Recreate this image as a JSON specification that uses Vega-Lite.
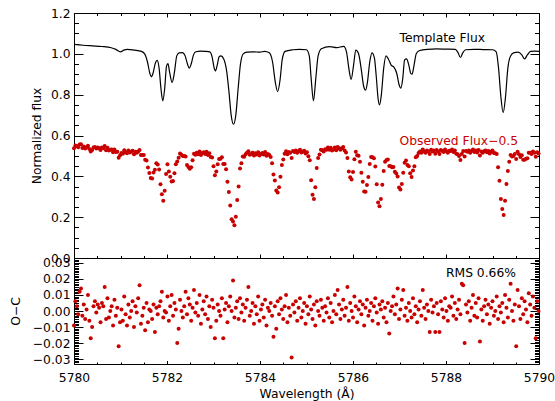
{
"$schema": "https://vega.github.io/schema/vega-lite/v6.json",
"background": "white",
"padding": {"left": 8, "top": 6, "right": 18, "bottom": 0},
"spacing": 0,
"bounds": "flush",
"config": {
 "view": {"stroke": "black", "strokeWidth": 1},
 "font": "DejaVu Sans",
 "axis": {"domain": false, "grid": false, "labelFont": "DejaVu Sans", "labelFontSize": 12.3, "labelColor": "#000", "titleFont": "DejaVu Sans", "titleFontSize": 12.3, "titleFontWeight": "normal", "titleColor": "#000", "tickColor": "#000", "tickWidth": 1, "labelFlush": false, "labelOverlap": false, "labelBound": false}
},
"datasets": {
"template": [
{"w":5780,"t":1.046},{"w":5780.2,"t":1.042},{"w":5780.4,"t":1.039},{"w":5780.6,"t":1.036},{"w":5780.8,"t":1.030},{"w":5780.9,"t":1.022},{"w":5781.0,"t":1.010},{"w":5781.07,"t":1.018},{"w":5781.15,"t":1.022},{"w":5781.3,"t":1.018},{"w":5781.45,"t":1.012},{"w":5781.52,"t":1.000},{"w":5781.58,"t":0.960},{"w":5781.63,"t":0.905},{"w":5781.66,"t":0.888},{"w":5781.70,"t":0.905},{"w":5781.75,"t":0.955},{"w":5781.79,"t":0.968},{"w":5781.83,"t":0.930},{"w":5781.87,"t":0.830},{"w":5781.91,"t":0.770},{"w":5781.95,"t":0.830},{"w":5781.99,"t":0.940},{"w":5782.02,"t":0.952},{"w":5782.06,"t":0.905},{"w":5782.11,"t":0.860},{"w":5782.16,"t":0.910},{"w":5782.21,"t":0.990},{"w":5782.26,"t":1.005},{"w":5782.33,"t":1.006},{"w":5782.39,"t":0.990},{"w":5782.44,"t":0.950},{"w":5782.48,"t":0.930},{"w":5782.52,"t":0.950},{"w":5782.57,"t":0.995},{"w":5782.62,"t":1.010},{"w":5782.72,"t":1.013},{"w":5782.82,"t":1.012},{"w":5782.92,"t":1.010},{"w":5782.97,"t":0.985},{"w":5783.01,"t":0.935},{"w":5783.04,"t":0.916},{"w":5783.08,"t":0.945},{"w":5783.12,"t":0.985},{"w":5783.16,"t":0.990},{"w":5783.22,"t":0.975},{"w":5783.28,"t":0.920},{"w":5783.33,"t":0.820},{"w":5783.38,"t":0.700},{"w":5783.43,"t":0.655},{"w":5783.48,"t":0.700},{"w":5783.53,"t":0.830},{"w":5783.58,"t":0.950},{"w":5783.64,"t":1.000},{"w":5783.72,"t":1.008},{"w":5783.85,"t":1.010},{"w":5784.0,"t":1.008},{"w":5784.1,"t":1.012},{"w":5784.2,"t":1.005},{"w":5784.27,"t":0.960},{"w":5784.33,"t":0.860},{"w":5784.38,"t":0.815},{"w":5784.43,"t":0.870},{"w":5784.48,"t":0.975},{"w":5784.54,"t":1.012},{"w":5784.7,"t":1.020},{"w":5784.85,"t":1.022},{"w":5785.0,"t":1.020},{"w":5785.06,"t":0.990},{"w":5785.10,"t":0.880},{"w":5785.15,"t":0.770},{"w":5785.20,"t":0.880},{"w":5785.25,"t":0.990},{"w":5785.32,"t":1.025},{"w":5785.5,"t":1.035},{"w":5785.65,"t":1.030},{"w":5785.8,"t":1.037},{"w":5785.86,"t":1.010},{"w":5785.91,"t":0.930},{"w":5785.96,"t":0.875},{"w":5786.01,"t":0.940},{"w":5786.06,"t":1.018},{"w":5786.12,"t":1.000},{"w":5786.18,"t":0.920},{"w":5786.23,"t":0.840},{"w":5786.27,"t":0.822},{"w":5786.31,"t":0.860},{"w":5786.36,"t":0.960},{"w":5786.41,"t":1.005},{"w":5786.46,"t":0.980},{"w":5786.50,"t":0.890},{"w":5786.54,"t":0.780},{"w":5786.57,"t":0.750},{"w":5786.61,"t":0.800},{"w":5786.66,"t":0.930},{"w":5786.71,"t":0.990},{"w":5786.76,"t":0.975},{"w":5786.82,"t":0.945},{"w":5786.88,"t":0.935},{"w":5786.94,"t":0.905},{"w":5786.99,"t":0.850},{"w":5787.03,"t":0.832},{"w":5787.07,"t":0.880},{"w":5787.11,"t":0.970},{"w":5787.15,"t":0.975},{"w":5787.20,"t":0.945},{"w":5787.24,"t":0.905},{"w":5787.27,"t":0.900},{"w":5787.31,"t":0.940},{"w":5787.36,"t":1.000},{"w":5787.42,"t":1.015},{"w":5787.6,"t":1.022},{"w":5787.8,"t":1.024},{"w":5788.0,"t":1.023},{"w":5788.2,"t":1.022},{"w":5788.26,"t":1.005},{"w":5788.31,"t":0.982},{"w":5788.36,"t":1.005},{"w":5788.42,"t":1.020},{"w":5788.6,"t":1.022},{"w":5788.8,"t":1.021},{"w":5789.0,"t":1.020},{"w":5789.08,"t":1.010},{"w":5789.13,"t":0.930},{"w":5789.18,"t":0.790},{"w":5789.23,"t":0.712},{"w":5789.28,"t":0.790},{"w":5789.33,"t":0.930},{"w":5789.38,"t":0.985},{"w":5789.45,"t":1.005},{"w":5789.55,"t":1.008},{"w":5789.63,"t":0.995},{"w":5789.69,"t":0.975},{"w":5789.75,"t":0.995},{"w":5789.82,"t":1.012},{"w":5789.9,"t":1.013},{"w":5790.0,"t":1.012}
],
"observed": [
{"w":5780.00,"f":0.537,"r":-0.009},{"w":5780.03,"f":0.551,"r":0.006},{"w":5780.06,"f":0.548,"r":0.003},{"w":5780.09,"f":0.542,"r":-0.002},{"w":5780.12,"f":0.556,"r":0.012},{"w":5780.15,"f":0.557,"r":0.014},{"w":5780.18,"f":0.539,"r":-0.003},{"w":5780.21,"f":0.546,"r":0.004},{"w":5780.24,"f":0.536,"r":-0.005},{"w":5780.27,"f":0.542,"r":0.001},
{"w":5780.30,"f":0.550,"r":0.010},{"w":5780.33,"f":0.534,"r":-0.006},{"w":5780.36,"f":0.522,"r":-0.017},{"w":5780.39,"f":0.529,"r":-0.010},{"w":5780.42,"f":0.541,"r":0.003},{"w":5780.45,"f":0.544,"r":0.006},{"w":5780.48,"f":0.536,"r":-0.001},{"w":5780.51,"f":0.541,"r":0.004},{"w":5780.54,"f":0.538,"r":0.002},{"w":5780.57,"f":0.529,"r":-0.007},
{"w":5780.60,"f":0.541,"r":0.005},{"w":5780.63,"f":0.538,"r":0.003},{"w":5780.66,"f":0.549,"r":0.015},{"w":5780.69,"f":0.528,"r":-0.005},{"w":5780.72,"f":0.540,"r":0.008},{"w":5780.75,"f":0.527,"r":-0.004},{"w":5780.78,"f":0.530,"r":0.000},{"w":5780.81,"f":0.532,"r":0.003},{"w":5780.84,"f":0.518,"r":-0.009},{"w":5780.87,"f":0.531,"r":0.007},
{"w":5780.90,"f":0.519,"r":-0.003},{"w":5780.93,"f":0.520,"r":0.002},{"w":5780.96,"f":0.491,"r":-0.022},{"w":5780.99,"f":0.503,"r":-0.007},{"w":5781.02,"f":0.514,"r":0.001},{"w":5781.05,"f":0.511,"r":-0.006},{"w":5781.08,"f":0.528,"r":0.009},{"w":5781.11,"f":0.518,"r":-0.002},{"w":5781.14,"f":0.513,"r":-0.009},{"w":5781.17,"f":0.526,"r":0.004},
{"w":5781.20,"f":0.517,"r":-0.004},{"w":5781.23,"f":0.520,"r":0.000},{"w":5781.26,"f":0.525,"r":0.006},{"w":5781.29,"f":0.508,"r":-0.010},{"w":5781.32,"f":0.520,"r":0.003},{"w":5781.35,"f":0.515,"r":-0.001},{"w":5781.38,"f":0.522,"r":0.008},{"w":5781.41,"f":0.529,"r":0.016},{"w":5781.44,"f":0.504,"r":-0.008},{"w":5781.47,"f":0.505,"r":-0.003},
{"w":5781.50,"f":0.505,"r":0.002},{"w":5781.53,"f":0.481,"r":-0.012},{"w":5781.56,"f":0.478,"r":0.005},{"w":5781.59,"f":0.443,"r":-0.007},{"w":5781.62,"f":0.416,"r":0.001},{"w":5781.65,"f":0.392,"r":0.000},{"w":5781.68,"f":0.390,"r":-0.005},{"w":5781.71,"f":0.419,"r":0.004},{"w":5781.74,"f":0.432,"r":-0.013},{"w":5781.77,"f":0.464,"r":0.002},
{"w":5781.80,"f":0.458,"r":-0.002},{"w":5781.83,"f":0.433,"r":0.003},{"w":5781.86,"f":0.361,"r":0.006},{"w":5781.89,"f":0.312,"r":0.012},{"w":5781.92,"f":0.281,"r":-0.004},{"w":5781.95,"f":0.330,"r":0.000},{"w":5781.98,"f":0.411,"r":-0.001},{"w":5782.01,"f":0.459,"r":0.009},{"w":5782.04,"f":0.424,"r":-0.006},{"w":5782.07,"f":0.398,"r":0.003},
{"w":5782.10,"f":0.375,"r":0.010},{"w":5782.13,"f":0.377,"r":-0.003},{"w":5782.16,"f":0.415,"r":0.005},{"w":5782.19,"f":0.459,"r":0.001},{"w":5782.22,"f":0.473,"r":-0.020},{"w":5782.25,"f":0.491,"r":-0.011},{"w":5782.28,"f":0.512,"r":0.007},{"w":5782.31,"f":0.506,"r":0.000},{"w":5782.34,"f":0.500,"r":-0.004},{"w":5782.37,"f":0.499,"r":0.003},
{"w":5782.40,"f":0.497,"r":0.012},{"w":5782.43,"f":0.456,"r":-0.002},{"w":5782.46,"f":0.446,"r":0.008},{"w":5782.49,"f":0.437,"r":0.004},{"w":5782.52,"f":0.444,"r":-0.006},{"w":5782.55,"f":0.479,"r":0.002},{"w":5782.58,"f":0.511,"r":0.013},{"w":5782.61,"f":0.506,"r":-0.001},{"w":5782.64,"f":0.515,"r":0.005},{"w":5782.67,"f":0.508,"r":-0.003},
{"w":5782.70,"f":0.522,"r":0.010},{"w":5782.73,"f":0.505,"r":-0.008},{"w":5782.76,"f":0.514,"r":0.001},{"w":5782.79,"f":0.518,"r":0.006},{"w":5782.82,"f":0.510,"r":-0.002},{"w":5782.85,"f":0.520,"r":0.009},{"w":5782.88,"f":0.505,"r":-0.005},{"w":5782.91,"f":0.513,"r":0.003},{"w":5782.94,"f":0.495,"r":-0.010},{"w":5782.97,"f":0.492,"r":0.007},
{"w":5783.00,"f":0.450,"r":0.002},{"w":5783.03,"f":0.405,"r":-0.017},{"w":5783.06,"f":0.424,"r":-0.006},{"w":5783.09,"f":0.459,"r":0.004},{"w":5783.12,"f":0.485,"r":0.000},{"w":5783.15,"f":0.486,"r":-0.003},{"w":5783.18,"f":0.494,"r":0.008},{"w":5783.21,"f":0.461,"r":-0.017},{"w":5783.24,"f":0.461,"r":0.001},{"w":5783.27,"f":0.435,"r":0.005},
{"w":5783.30,"f":0.373,"r":-0.007},{"w":5783.33,"f":0.323,"r":0.003},{"w":5783.36,"f":0.257,"r":0.009},{"w":5783.39,"f":0.190,"r":0.000},{"w":5783.42,"f":0.179,"r":0.019},{"w":5783.45,"f":0.161,"r":-0.004},{"w":5783.48,"f":0.202,"r":0.002},{"w":5783.51,"f":0.284,"r":0.006},{"w":5783.54,"f":0.350,"r":-0.005},{"w":5783.57,"f":0.438,"r":0.008},
{"w":5783.60,"f":0.464,"r":-0.001},{"w":5783.63,"f":0.497,"r":0.004},{"w":5783.66,"f":0.496,"r":-0.006},{"w":5783.69,"f":0.508,"r":0.002},{"w":5783.72,"f":0.515,"r":0.007},{"w":5783.75,"f":0.523,"r":0.015},{"w":5783.78,"f":0.506,"r":-0.003},{"w":5783.81,"f":0.509,"r":0.000},{"w":5783.84,"f":0.515,"r":0.005},{"w":5783.87,"f":0.502,"r":-0.008},
{"w":5783.90,"f":0.513,"r":0.003},{"w":5783.93,"f":0.507,"r":-0.002},{"w":5783.96,"f":0.518,"r":0.009},{"w":5783.99,"f":0.502,"r":-0.006},{"w":5784.02,"f":0.510,"r":0.001},{"w":5784.05,"f":0.514,"r":0.004},{"w":5784.08,"f":0.507,"r":-0.004},{"w":5784.11,"f":0.519,"r":0.007},{"w":5784.14,"f":0.501,"r":-0.009},{"w":5784.17,"f":0.510,"r":0.002},
{"w":5784.20,"f":0.505,"r":0.000},{"w":5784.23,"f":0.495,"r":0.005},{"w":5784.26,"f":0.464,"r":-0.003},{"w":5784.29,"f":0.409,"r":-0.016},{"w":5784.32,"f":0.380,"r":0.003},{"w":5784.35,"f":0.331,"r":-0.011},{"w":5784.38,"f":0.321,"r":0.006},{"w":5784.41,"f":0.346,"r":-0.002},{"w":5784.44,"f":0.398,"r":0.008},{"w":5784.47,"f":0.456,"r":0.001},
{"w":5784.50,"f":0.483,"r":-0.005},{"w":5784.53,"f":0.511,"r":0.003},{"w":5784.56,"f":0.523,"r":0.010},{"w":5784.59,"f":0.508,"r":-0.007},{"w":5784.62,"f":0.519,"r":0.002},{"w":5784.65,"f":0.515,"r":-0.003},{"w":5784.68,"f":0.490,"r":-0.029},{"w":5784.71,"f":0.524,"r":0.004},{"w":5784.74,"f":0.519,"r":-0.001},{"w":5784.77,"f":0.527,"r":0.006},
{"w":5784.80,"f":0.515,"r":-0.006},{"w":5784.83,"f":0.524,"r":0.002},{"w":5784.86,"f":0.530,"r":0.008},{"w":5784.89,"f":0.517,"r":-0.004},{"w":5784.92,"f":0.521,"r":0.000},{"w":5784.95,"f":0.525,"r":0.005},{"w":5784.98,"f":0.512,"r":-0.008},{"w":5785.01,"f":0.518,"r":0.003},{"w":5785.04,"f":0.498,"r":-0.002},{"w":5785.07,"f":0.479,"r":0.009},
{"w":5785.10,"f":0.381,"r":0.001},{"w":5785.13,"f":0.310,"r":-0.005},{"w":5785.16,"f":0.289,"r":0.004},{"w":5785.19,"f":0.346,"r":-0.009},{"w":5785.22,"f":0.441,"r":0.006},{"w":5785.25,"f":0.490,"r":0.000},{"w":5785.28,"f":0.507,"r":-0.003},{"w":5785.31,"f":0.530,"r":0.007},{"w":5785.34,"f":0.528,"r":0.002},{"w":5785.37,"f":0.522,"r":-0.006},
{"w":5785.40,"f":0.533,"r":0.003},{"w":5785.43,"f":0.530,"r":-0.001},{"w":5785.46,"f":0.541,"r":0.008},{"w":5785.49,"f":0.530,"r":-0.004},{"w":5785.52,"f":0.540,"r":0.005},{"w":5785.55,"f":0.527,"r":-0.007},{"w":5785.58,"f":0.532,"r":0.000},{"w":5785.61,"f":0.541,"r":0.010},{"w":5785.64,"f":0.528,"r":-0.002},{"w":5785.67,"f":0.544,"r":0.013},
{"w":5785.70,"f":0.537,"r":0.004},{"w":5785.73,"f":0.530,"r":-0.005},{"w":5785.76,"f":0.537,"r":0.001},{"w":5785.79,"f":0.544,"r":0.007},{"w":5785.82,"f":0.527,"r":-0.003},{"w":5785.85,"f":0.517,"r":0.002},{"w":5785.88,"f":0.490,"r":0.015},{"w":5785.91,"f":0.424,"r":-0.006},{"w":5785.94,"f":0.395,"r":0.005},{"w":5785.97,"f":0.385,"r":0.000},
{"w":5786.00,"f":0.421,"r":-0.004},{"w":5786.03,"f":0.484,"r":0.009},{"w":5786.06,"f":0.521,"r":0.003},{"w":5786.09,"f":0.503,"r":-0.007},{"w":5786.12,"f":0.501,"r":0.001},{"w":5786.15,"f":0.471,"r":0.006},{"w":5786.18,"f":0.418,"r":-0.002},{"w":5786.21,"f":0.374,"r":0.004},{"w":5786.24,"f":0.326,"r":-0.009},{"w":5786.27,"f":0.324,"r":0.002},
{"w":5786.30,"f":0.357,"r":0.007},{"w":5786.33,"f":0.397,"r":-0.003},{"w":5786.36,"f":0.460,"r":0.000},{"w":5786.39,"f":0.495,"r":0.005},{"w":5786.42,"f":0.494,"r":-0.006},{"w":5786.45,"f":0.488,"r":0.003},{"w":5786.48,"f":0.448,"r":0.008},{"w":5786.51,"f":0.361,"r":-0.001},{"w":5786.54,"f":0.272,"r":-0.008},{"w":5786.57,"f":0.254,"r":0.004},
{"w":5786.60,"f":0.289,"r":0.001},{"w":5786.63,"f":0.359,"r":0.006},{"w":5786.66,"f":0.426,"r":-0.004},{"w":5786.69,"f":0.472,"r":0.002},{"w":5786.72,"f":0.480,"r":-0.007},{"w":5786.75,"f":0.483,"r":0.005},{"w":5786.78,"f":0.451,"r":-0.014},{"w":5786.81,"f":0.450,"r":0.000},{"w":5786.84,"f":0.445,"r":0.003},{"w":5786.87,"f":0.446,"r":0.009},
{"w":5786.90,"f":0.423,"r":-0.002},{"w":5786.93,"f":0.414,"r":0.004},{"w":5786.96,"f":0.399,"r":0.014},{"w":5786.99,"f":0.345,"r":-0.005},{"w":5787.02,"f":0.336,"r":0.001},{"w":5787.05,"f":0.362,"r":0.007},{"w":5787.08,"f":0.418,"r":0.013},{"w":5787.11,"f":0.467,"r":-0.003},{"w":5787.14,"f":0.477,"r":0.002},{"w":5787.17,"f":0.456,"r":-0.006},
{"w":5787.20,"f":0.450,"r":0.005},{"w":5787.23,"f":0.415,"r":0.000},{"w":5787.26,"f":0.397,"r":-0.004},{"w":5787.29,"f":0.428,"r":0.008},{"w":5787.32,"f":0.450,"r":-0.002},{"w":5787.35,"f":0.493,"r":0.003},{"w":5787.38,"f":0.499,"r":-0.007},{"w":5787.41,"f":0.514,"r":0.001},{"w":5787.44,"f":0.522,"r":0.006},{"w":5787.47,"f":0.515,"r":-0.003},
{"w":5787.50,"f":0.532,"r":0.013},{"w":5787.53,"f":0.522,"r":0.002},{"w":5787.56,"f":0.516,"r":-0.005},{"w":5787.59,"f":0.526,"r":0.004},{"w":5787.62,"f":0.522,"r":0.000},{"w":5787.65,"f":0.509,"r":-0.013},{"w":5787.68,"f":0.530,"r":0.007},{"w":5787.71,"f":0.522,"r":-0.001},{"w":5787.74,"f":0.526,"r":0.003},{"w":5787.77,"f":0.511,"r":-0.013},
{"w":5787.80,"f":0.529,"r":0.005},{"w":5787.83,"f":0.522,"r":-0.002},{"w":5787.86,"f":0.510,"r":-0.013},{"w":5787.89,"f":0.529,"r":0.006},{"w":5787.92,"f":0.524,"r":0.001},{"w":5787.95,"f":0.519,"r":-0.004},{"w":5787.98,"f":0.531,"r":0.008},{"w":5788.01,"f":0.523,"r":0.000},{"w":5788.04,"f":0.516,"r":-0.006},{"w":5788.07,"f":0.525,"r":0.003},
{"w":5788.10,"f":0.524,"r":0.002},{"w":5788.13,"f":0.531,"r":0.009},{"w":5788.16,"f":0.519,"r":-0.003},{"w":5788.19,"f":0.526,"r":0.005},{"w":5788.22,"f":0.511,"r":-0.005},{"w":5788.25,"f":0.508,"r":0.001},{"w":5788.28,"f":0.500,"r":0.007},{"w":5788.31,"f":0.480,"r":-0.002},{"w":5788.34,"f":0.510,"r":0.017},{"w":5788.37,"f":0.524,"r":0.016},
{"w":5788.40,"f":0.497,"r":-0.020},{"w":5788.43,"f":0.524,"r":0.004},{"w":5788.46,"f":0.520,"r":-0.001},{"w":5788.49,"f":0.527,"r":0.006},{"w":5788.52,"f":0.515,"r":-0.006},{"w":5788.55,"f":0.524,"r":0.002},{"w":5788.58,"f":0.532,"r":0.010},{"w":5788.61,"f":0.519,"r":-0.003},{"w":5788.64,"f":0.526,"r":0.005},{"w":5788.67,"f":0.517,"r":-0.004},
{"w":5788.70,"f":0.529,"r":0.008},{"w":5788.73,"f":0.502,"r":-0.019},{"w":5788.76,"f":0.522,"r":0.001},{"w":5788.79,"f":0.515,"r":-0.006},{"w":5788.82,"f":0.523,"r":0.003},{"w":5788.85,"f":0.527,"r":0.007},{"w":5788.88,"f":0.518,"r":-0.002},{"w":5788.91,"f":0.524,"r":0.004},{"w":5788.94,"f":0.512,"r":-0.008},{"w":5788.97,"f":0.522,"r":0.002},
{"w":5789.00,"f":0.526,"r":0.006},{"w":5789.03,"f":0.514,"r":-0.003},{"w":5789.06,"f":0.513,"r":0.000},{"w":5789.09,"f":0.509,"r":0.009},{"w":5789.12,"f":0.445,"r":-0.005},{"w":5789.15,"f":0.378,"r":0.003},{"w":5789.18,"f":0.289,"r":-0.001},{"w":5789.21,"f":0.240,"r":0.005},{"w":5789.24,"f":0.211,"r":-0.007},{"w":5789.27,"f":0.280,"r":0.010},
{"w":5789.30,"f":0.362,"r":0.002},{"w":5789.33,"f":0.426,"r":-0.004},{"w":5789.36,"f":0.472,"r":0.007},{"w":5789.39,"f":0.505,"r":0.017},{"w":5789.42,"f":0.497,"r":0.000},{"w":5789.45,"f":0.499,"r":-0.006},{"w":5789.48,"f":0.510,"r":0.004},{"w":5789.51,"f":0.485,"r":-0.022},{"w":5789.54,"f":0.521,"r":0.013},{"w":5789.57,"f":0.508,"r":0.003},
{"w":5789.60,"f":0.495,"r":-0.005},{"w":5789.63,"f":0.503,"r":0.008},{"w":5789.66,"f":0.481,"r":-0.002},{"w":5789.69,"f":0.481,"r":0.006},{"w":5789.72,"f":0.486,"r":0.001},{"w":5789.75,"f":0.488,"r":-0.007},{"w":5789.78,"f":0.515,"r":0.011},{"w":5789.81,"f":0.515,"r":0.004},{"w":5789.84,"f":0.509,"r":-0.003},{"w":5789.87,"f":0.522,"r":0.009},
{"w":5789.90,"f":0.515,"r":0.002},{"w":5789.93,"f":0.496,"r":-0.017},{"w":5789.96,"f":0.518,"r":0.006},{"w":5789.99,"f":0.512,"r":0.000}
]
},
"vconcat": [
{
 "width": 465, "height": 245,
 "resolve": {"axis": {"x": "independent", "y": "independent"}},
 "layer": [
  {
   "data": {"name": "template"},
   "mark": {"type": "line", "color": "black", "strokeWidth": 1.2, "interpolate": "monotone"},
   "encoding": {
    "x": {"field": "w", "type": "quantitative", "scale": {"domain": [5780, 5790], "nice": false, "zero": false},
     "axis": {"orient": "bottom", "title": null, "labels": false, "values": [5780,5782,5784,5786,5788,5790], "tickSize": -4}},
    "y": {"field": "t", "type": "quantitative", "scale": {"domain": [0, 1.2], "nice": false, "zero": false},
     "axis": {"orient": "left", "title": "Normalized flux", "titlePadding": 7, "labelPadding": 13, "format": ".1f",
      "values": [0,0.2,0.4,0.6,0.8,1,1.2], "tickSize": -9}}
   }
  },
  {
   "data": {"name": "observed"},
   "mark": {"type": "circle", "color": "#c80000", "size": 16, "opacity": 1},
   "encoding": {
    "x": {"field": "w", "type": "quantitative", "scale": {"domain": [5780, 5790], "nice": false, "zero": false},
     "axis": {"orient": "bottom", "title": null, "labels": false, "values": [5780.5,5781,5781.5,5782.5,5783,5783.5,5784.5,5785,5785.5,5786.5,5787,5787.5,5788.5,5789,5789.5], "tickSize": -2.5}},
    "y": {"field": "f", "type": "quantitative", "scale": {"domain": [0, 1.2], "nice": false, "zero": false},
     "axis": {"orient": "left", "title": null, "labels": false,
      "values": [0.05,0.1,0.15,0.25,0.3,0.35,0.45,0.5,0.55,0.65,0.7,0.75,0.85,0.9,0.95,1.05,1.1,1.15], "tickSize": -4.5}}
   }
  },
  {
   "data": {"values": [{"w": 5787.0, "v": 1.078, "label": "Template Flux"}]},
   "mark": {"type": "text", "align": "left", "baseline": "middle", "fontSize": 12.3, "font": "DejaVu Sans", "color": "#000000"},
   "encoding": {
    "x": {"field": "w", "type": "quantitative", "scale": {"domain": [5780, 5790], "nice": false, "zero": false},
     "axis": {"orient": "top", "title": null, "labels": false, "values": [5780,5782,5784,5786,5788,5790], "tickSize": -4}},
    "y": {"field": "v", "type": "quantitative", "scale": {"domain": [0, 1.2], "nice": false, "zero": false},
     "axis": {"orient": "right", "title": null, "labels": false, "values": [0,0.2,0.4,0.6,0.8,1,1.2], "tickSize": -9}},
    "text": {"field": "label"}
   }
  },
  {
   "data": {"values": [{"w": 5787.0, "v": 0.573, "label": "Observed Flux−0.5"}]},
   "mark": {"type": "text", "align": "left", "baseline": "middle", "fontSize": 12.3, "font": "DejaVu Sans", "color": "#c80000"},
   "encoding": {
    "x": {"field": "w", "type": "quantitative", "scale": {"domain": [5780, 5790], "nice": false, "zero": false},
     "axis": {"orient": "top", "title": null, "labels": false, "values": [5780.5,5781,5781.5,5782.5,5783,5783.5,5784.5,5785,5785.5,5786.5,5787,5787.5,5788.5,5789,5789.5], "tickSize": -2.5}},
    "y": {"field": "v", "type": "quantitative", "scale": {"domain": [0, 1.2], "nice": false, "zero": false},
     "axis": {"orient": "right", "title": null, "labels": false,
      "values": [0.05,0.1,0.15,0.25,0.3,0.35,0.45,0.5,0.55,0.65,0.7,0.75,0.85,0.9,0.95,1.05,1.1,1.15], "tickSize": -4.5}},
    "text": {"field": "label"}
   }
  }
 ]
},
{
 "width": 465, "height": 106,
 "resolve": {"axis": {"x": "independent", "y": "independent"}},
 "layer": [
  {
   "data": {"name": "observed"},
   "mark": {"type": "circle", "color": "#c80000", "size": 16, "opacity": 1},
   "encoding": {
    "x": {"field": "w", "type": "quantitative", "scale": {"domain": [5780, 5790], "nice": false, "zero": false},
     "axis": {"orient": "bottom", "title": "Wavelength (Å)", "titlePadding": 4, "labelPadding": 11, "format": "d",
      "values": [5780,5782,5784,5786,5788,5790], "tickSize": -3.5}},
    "y": {"field": "r", "type": "quantitative", "scale": {"domain": [-0.033, 0.033], "nice": false, "zero": false},
     "axis": {"orient": "left", "title": "O−C", "titlePadding": 10, "labelPadding": 13, "format": ".2f",
      "values": [-0.03,-0.02,-0.01,0,0.01,0.02,0.03], "tickSize": -9}}
   }
  },
  {
   "data": {"values": [{"w": 5788.0, "v": 0.0238, "label": "RMS 0.66%"}]},
   "mark": {"type": "text", "align": "left", "baseline": "middle", "fontSize": 12.3, "font": "DejaVu Sans", "color": "#000000"},
   "encoding": {
    "x": {"field": "w", "type": "quantitative", "scale": {"domain": [5780, 5790], "nice": false, "zero": false},
     "axis": {"orient": "bottom", "title": null, "labels": false, "values": [5780.5,5781,5781.5,5782.5,5783,5783.5,5784.5,5785,5785.5,5786.5,5787,5787.5,5788.5,5789,5789.5], "tickSize": -2}},
    "y": {"field": "v", "type": "quantitative", "scale": {"domain": [-0.033, 0.033], "nice": false, "zero": false},
     "axis": {"orient": "left", "title": null, "labels": false,
      "values": [-0.032,-0.031,-0.029,-0.028,-0.027,-0.026,-0.025,-0.024,-0.023,-0.022,-0.021,-0.019,-0.018,-0.017,-0.016,-0.015,-0.014,-0.013,-0.012,-0.011,-0.009,-0.008,-0.007,-0.006,-0.005,-0.004,-0.003,-0.002,-0.001,0.001,0.002,0.003,0.004,0.005,0.006,0.007,0.008,0.009,0.011,0.012,0.013,0.014,0.015,0.016,0.017,0.018,0.019,0.021,0.022,0.023,0.024,0.025,0.026,0.027,0.028,0.029,0.031,0.032], "tickSize": -4.5}},
    "text": {"field": "label"}
   }
  },
  {
   "data": {"name": "observed"},
   "mark": {"type": "point", "opacity": 0},
   "encoding": {
    "x": {"field": "w", "type": "quantitative", "scale": {"domain": [5780, 5790], "nice": false, "zero": false}, "axis": null},
    "y": {"field": "r", "type": "quantitative", "scale": {"domain": [-0.033, 0.033], "nice": false, "zero": false},
     "axis": {"orient": "right", "title": null, "labels": false, "values": [-0.03,-0.02,-0.01,0,0.01,0.02,0.03], "tickSize": -9}}
   }
  },
  {
   "data": {"name": "observed"},
   "mark": {"type": "point", "opacity": 0},
   "encoding": {
    "x": {"field": "w", "type": "quantitative", "scale": {"domain": [5780, 5790], "nice": false, "zero": false}, "axis": null},
    "y": {"field": "r", "type": "quantitative", "scale": {"domain": [-0.033, 0.033], "nice": false, "zero": false},
     "axis": {"orient": "right", "title": null, "labels": false,
      "values": [-0.032,-0.031,-0.029,-0.028,-0.027,-0.026,-0.025,-0.024,-0.023,-0.022,-0.021,-0.019,-0.018,-0.017,-0.016,-0.015,-0.014,-0.013,-0.012,-0.011,-0.009,-0.008,-0.007,-0.006,-0.005,-0.004,-0.003,-0.002,-0.001,0.001,0.002,0.003,0.004,0.005,0.006,0.007,0.008,0.009,0.011,0.012,0.013,0.014,0.015,0.016,0.017,0.018,0.019,0.021,0.022,0.023,0.024,0.025,0.026,0.027,0.028,0.029,0.031,0.032], "tickSize": -4.5}}
   }
  }
 ]
}
]
}
